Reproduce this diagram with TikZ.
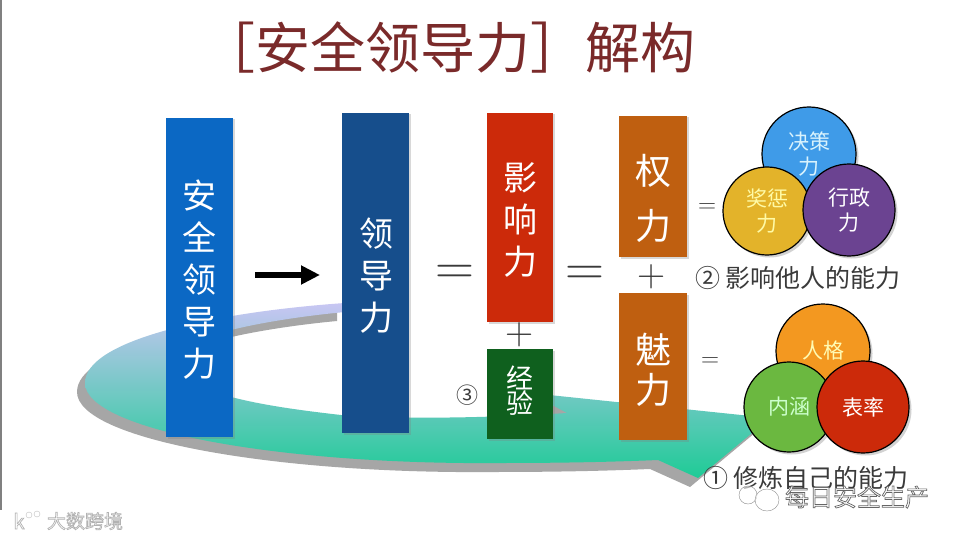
\documentclass[tikz,border=0pt]{standalone}
\usepackage{fontspec}
\newfontfamily\cjk{Noto Sans CJK SC}
\usetikzlibrary{arrows.meta,shadows}
\definecolor{titlered}{HTML}{7A2A2A}
\definecolor{safeblue}{HTML}{0B68C4}
\definecolor{leadblue}{HTML}{164E8C}
\definecolor{powerred}{HTML}{CC2A0A}
\definecolor{expgreen}{HTML}{0F601E}
\definecolor{rustbrown}{HTML}{BF5F10}
\definecolor{skyfill}{HTML}{3F9BE8}
\definecolor{yellowfill}{HTML}{E3B32A}
\definecolor{purplefill}{HTML}{6B4391}
\definecolor{orangefill}{HTML}{F39820}
\definecolor{greenfill}{HTML}{6BB840}
\definecolor{inkgray}{HTML}{3A3A3A}
\definecolor{swooshtop}{HTML}{C8C6F3}
\definecolor{swooshmid}{HTML}{A2D6D4}
\definecolor{swooshlow}{HTML}{1ECB96}
\tikzset{
  barbox/.style={draw=none,inner sep=0pt,drop shadow={shadow xshift=1.5pt,shadow yshift=-1.5pt,opacity=.3}},
  bartext/.style={inner sep=0pt,align=center,text=white,font=\cjk\fontsize{34}{42}\selectfont},
  ball/.style={circle,draw=black,line width=1.2pt,inner sep=0pt,minimum size=92pt,align=center,
    drop shadow={shadow xshift=2.5pt,shadow yshift=-2.5pt,opacity=.35},font=\cjk\fontsize{21}{25}\selectfont},
  signtext/.style={inner sep=0pt,text=inkgray,font=\fontsize{#1}{#1}\selectfont},
  circledtext/.style={inner sep=0pt,text=inkgray,font=\cjk\fontsize{#1}{#1}\selectfont},
  captext/.style={inner sep=0pt,text=inkgray,font=\cjk\fontsize{25}{28}\selectfont},
  marktext/.style={inner sep=0pt,text=white,font=\cjk\fontsize{#1}{#1}\selectfont}
}
% white letters with a thin grey rim: #1 grey level, #2 text
\newcommand{\rimtext}[2]{\special{pdf:code q #1 G 0.7 w 2 Tr}#2\special{pdf:code 0 Tr Q}}
\begin{document}
\begin{tikzpicture}[x=1pt,y=-1pt]
  \useasboundingbox[fill=white] (0,0) rectangle (960,540);
  \fill[gray] (0,0) rectangle (2,510);

  % Title.
  \node[inner sep=0pt,text=titlered,font=\cjk\fontsize{55}{60}\selectfont] (title) at (448,47) {［安全领导力］解构};

  % Swoosh behind the bars.
  \def\swoosh{(345,303) .. controls (215,312) and (85,340) .. (85,383)
    .. controls (85,430) and (280,465) .. (500,463)
    .. controls (560,463) and (610,462) .. (658,460)
    -- (698,478) -- (770,418) -- (530,393) -- (567,413)
    .. controls (500,417) and (420,420) .. (341,415)
    .. controls (280,408) and (175,395) .. (175,360)
    .. controls (175,335) and (280,318) .. (345,312) -- cycle}
  \fill[black!35,shift={(-8,9)}] \swoosh;
  \shade[top color=swooshtop,middle color=swooshmid,bottom color=swooshlow] \swoosh;

  % Bars.
  \node[barbox,fill=safeblue,minimum width=67pt,minimum height=319pt] (safe) at (199.5,277.5) {};
  \node[barbox,fill=leadblue,minimum width=67pt,minimum height=320pt] (lead) at (375.5,273) {};
  \node[barbox,fill=powerred,minimum width=66pt,minimum height=209pt] (influence) at (520,217.5) {};
  \node[barbox,fill=expgreen,minimum width=66pt,minimum height=90pt] (exp) at (520,394) {};
  \node[barbox,fill=rustbrown,minimum width=68pt,minimum height=141pt] (power) at (653,186.5) {};
  \node[barbox,fill=rustbrown,minimum width=68pt,minimum height=147pt] (charm) at (653,366.5) {};

  \node[bartext] (safetext) at (199.5,280) {安\\全\\领\\导\\力};
  \node[bartext] (leadtext) at (376,276) {领\\导\\力};
  \node[bartext] (influencetext) at (520,220) {影\\响\\力};
  \node[bartext,font=\cjk\fontsize{27}{25}\selectfont] (exptext) at (520,391) {经\\验};
  \node[bartext,font=\cjk\fontsize{36}{55}\selectfont] (powertext) at (653,198) {权\\力};
  \node[bartext,font=\cjk\fontsize{36}{40}\selectfont] (charmtext) at (653,370) {魅\\力};

  % Arrow and signs.
  \coordinate (arrowtail) at (255,275);
  \coordinate (arrowtip) at (320,275);
  \draw[line width=6.5pt,-{Triangle[length=19pt,width=18pt]}] (arrowtail) -- (arrowtip);
  \node[signtext=54] (eqa) at (455,275) {=};
  \node[signtext=54] (eqb) at (585,276) {=};
  \node[signtext=25] (eqc) at (707,208) {=};
  \node[signtext=25] (eqd) at (710,362) {=};
  \node[signtext=39] (plusa) at (520,335) {+};
  \node[signtext=39] (plusb) at (652,277) {+};
  \node[circledtext=22] (three) at (467,395) {③};

  % Upper group of balls.
  \node[ball,fill=skyfill,text=cyan!15!white,minimum size=94pt] (decide) at (809,154) {决策\\力};
  \node[ball,fill=yellowfill,text=yellow!35!white,minimum size=88pt] (reward) at (767,211) {奖惩\\力};
  \node[ball,fill=purplefill,text=white,minimum size=92pt] (admin) at (849,210) {行政\\力};
  \node[captext] (capinfluence) at (798,278) {② 影响他人的能力};

  % Lower group of balls.
  \node[ball,fill=orangefill,text=yellow!30!white,minimum size=94pt] (person) at (823,351) {人格};
  \node[ball,fill=greenfill,text=green!20!white,minimum size=90pt] (inner) at (789,407) {内涵};
  \node[ball,fill=powerred,text=white,minimum size=92pt] (manner) at (863,407) {表率};
  \node[captext] (capself) at (806,478) {① 修炼自己的能力};

  % Watermarks.
  \draw[black!45,line width=.4pt,fill=white,fill opacity=.6] (748,495) ellipse[x radius=9,y radius=9];
  \draw[black!45,line width=.4pt,fill=white,fill opacity=.6] (767,500) ellipse[x radius=12,y radius=11];
  \node[marktext=24] (markdaily) at (857,497) {\rimtext{0.4}{每日安全生产}};
  \node[marktext=19] (markcross) at (85,521) {\rimtext{0.7}{大数跨境}};
  \node[marktext=20] (marklogo) at (19,521) {\rimtext{0.7}{k}};
  \draw[black!25,fill=white] (29,515) circle[radius=3] (37,514) circle[radius=3];
\end{tikzpicture}
\end{document}
